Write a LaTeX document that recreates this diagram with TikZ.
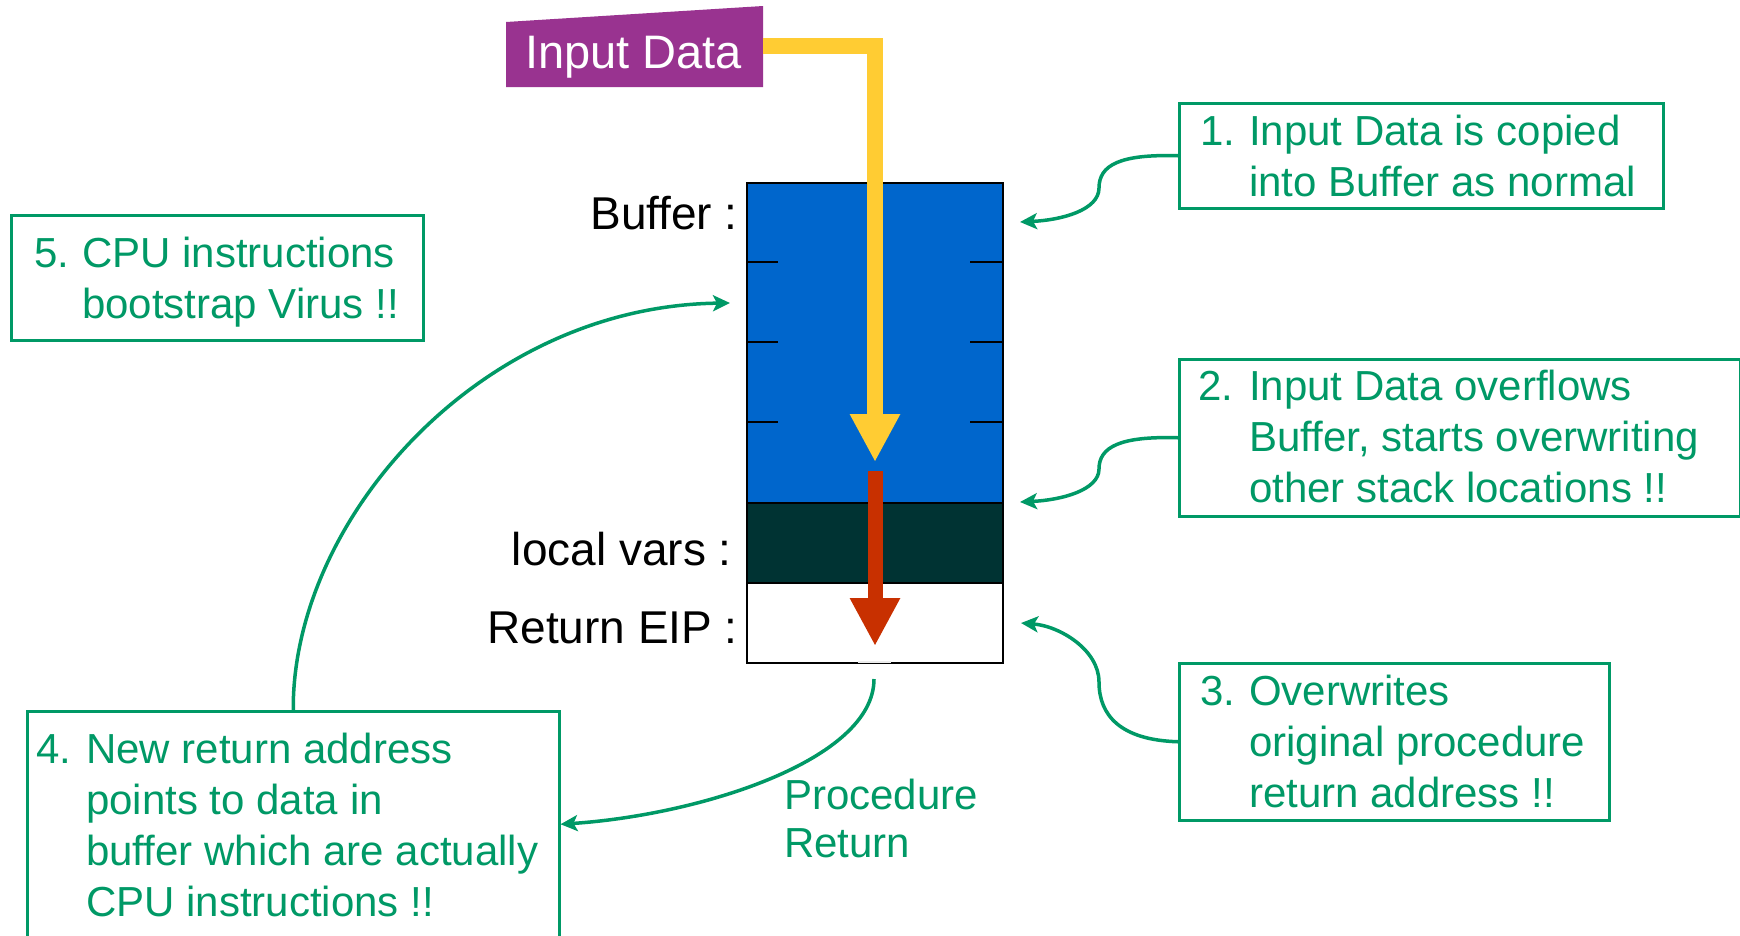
\documentclass[tikz,border=0pt]{standalone}
\usepackage{fontspec}
\setmainfont{Liberation Sans}
\usetikzlibrary{arrows.meta}
\definecolor{pgreen}{RGB}{0,153,102}
\definecolor{ipurple}{RGB}{153,51,144}
\definecolor{sblue}{RGB}{0,102,204}
\definecolor{sdark}{RGB}{0,51,51}
\definecolor{syellow}{RGB}{255,204,51}
\definecolor{sred}{RGB}{200,48,0}
\begin{document}
\begin{tikzpicture}[x=1pt,y=-1pt,
  gbox/.style={draw=pgreen,line width=2.5pt,rectangle,inner sep=0pt,anchor=north west},
  gtext/.style={text=pgreen,font=\fontsize{42}{51}\selectfont,anchor=base west,inner sep=0pt},
  garrow/.style={draw=pgreen,line width=3.5pt,-{Stealth[length=17pt,width=16pt,inset=4pt]}},
  blabel/.style={font=\fontsize{46}{52}\selectfont,anchor=base east,inner sep=0pt},
  cell/.style={draw=black,line width=2pt,rectangle,inner sep=0pt,anchor=north west,minimum width=256pt},
  ticks/.style={line width=2pt},
  fatarrow/.style={line width=#1,-{Triangle[length=48pt,width=47pt]}}
]
\clip (0,0) rectangle (1740,935);
\fill[white] (0,0) rectangle (1740,935);

% stack
\node[cell,fill=sblue,minimum height=320pt] (buf) at (746,182) {};
\node[cell,fill=sdark,minimum height=80pt] (loc) at (746,502) {};
\node[cell,fill=white,minimum height=80pt] (ret) at (746,582) {};
\foreach \y in {262,342,422}{
  \draw[ticks] (746,\y) -- (778,\y);
  \draw[ticks] (970,\y) -- (1002,\y);
}
\draw[line width=2.5pt,white!85!gray] (858,662) -- (891,662);

\node[blabel] (lbuf) at (738,229) {Buffer :};
\node[blabel] (lloc) at (732,565) {local vars :};
\node[blabel] (lret) at (738,643) {Return EIP :};

% input data
\fill[ipurple] (506,22) -- (763,6) -- (763,87) -- (506,87) -- cycle;
\node[text=white,font=\fontsize{47}{50}\selectfont,anchor=base west,inner sep=0pt] (inp) at (525,68) {Input Data};
\coordinate (inpR) at (763,46);
\coordinate (ytip) at (875,462);
\draw[syellow,fatarrow=16pt,line join=miter] (inpR) -| (ytip);

\coordinate (rstart) at (875,471);
\coordinate (rtip) at (875,646);
\draw[sred,fatarrow=15pt] (rstart) -- (rtip);

% green boxes
\node[gbox,minimum width=484pt,minimum height=105pt] (b1) at (1178,102) {};
\node[gtext] (t1) at (1200,145) {\begin{tabular}[t]{@{}l@{}}\makebox[49pt][l]{1.}Input Data is copied\\\makebox[49pt][l]{}into Buffer as normal\end{tabular}};

\node[gbox,minimum width=561pt,minimum height=157pt] (b2) at (1178,358) {};
\node[gtext] (t2) at (1198,400) {\begin{tabular}[t]{@{}l@{}}\makebox[51pt][l]{2.}Input Data overflows\\\makebox[51pt][l]{}Buffer, starts overwriting\\\makebox[51pt][l]{}other stack locations !!\end{tabular}};

\node[gbox,minimum width=430pt,minimum height=157pt] (b3) at (1178,662) {};
\node[gtext] (t3) at (1200,705) {\begin{tabular}[t]{@{}l@{}}\makebox[49pt][l]{3.}Overwrites\\\makebox[49pt][l]{}original procedure\\\makebox[49pt][l]{}return address !!\end{tabular}};

\node[gbox,minimum width=412pt,minimum height=125pt] (b5) at (10,214) {};
\node[gtext] (t5) at (34,267) {\begin{tabular}[t]{@{}l@{}}\makebox[48pt][l]{5.}CPU instructions\\\makebox[48pt][l]{}bootstrap Virus !!\end{tabular}};

\node[gbox,minimum width=532pt,minimum height=240pt] (b4) at (26,710) {};
\node[gtext] (t4) at (36,763) {\begin{tabular}[t]{@{}l@{}}\makebox[50pt][l]{4.}New return address\\\makebox[50pt][l]{}points to data in\\\makebox[50pt][l]{}buffer which are actually\\\makebox[50pt][l]{}CPU instructions !!\end{tabular}};

\node[text=pgreen,font=\fontsize{42}{48}\selectfont,anchor=base west,inner sep=0pt] (prt) at (784,809) {\begin{tabular}[t]{@{}l@{}}Procedure\\Return\end{tabular}};

% green arrows
\coordinate (a1tip) at (1020,222);
\coordinate (a2tip) at (1020,502);
\coordinate (a3tip) at (1021,623);
\coordinate (a5tip) at (730,303);
\coordinate (prs) at (874,679);
\draw[garrow] (b1.west) .. controls (1120,154) and (1099,165) .. (1099,188) .. controls (1099,210) and (1062,220) .. (a1tip);
\draw[garrow] (b2.west) .. controls (1120,436) and (1099,447) .. (1099,469) .. controls (1099,490) and (1062,500) .. (a2tip);
\draw[garrow] (b3.west) .. controls (1120,740) and (1099,715) .. (1099,682) .. controls (1099,650) and (1060,626) .. (a3tip);
\draw[garrow] (prs) .. controls (874,760) and (700,815) .. ([yshift=7pt]b4.east);
\draw[garrow] (b4.north) .. controls (292,520) and (480,306) .. (a5tip);
\end{tikzpicture}
\end{document}
